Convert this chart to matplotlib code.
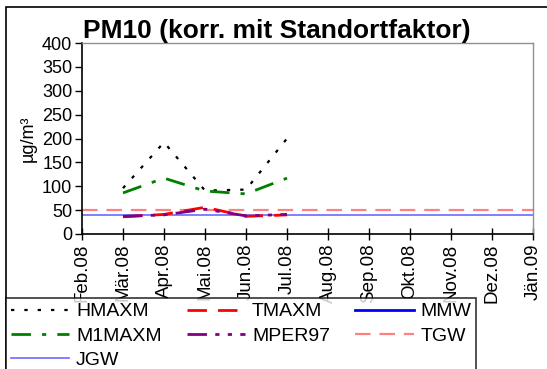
import numpy as np
import matplotlib
matplotlib.use("Agg")
from matplotlib import pyplot as plt
from matplotlib.patches import Rectangle

plt.rcParams['font.family'] = ['Liberation Sans', 'DejaVu Sans']

months = ['Feb.08', 'Mär.08', 'Apr.08', 'Mai.08', 'Jun.08', 'Jul.08',
          'Aug.08', 'Sep.08', 'Okt.08', 'Nov.08', 'Dez.08', 'Jän.09']
# measured months: Mär.08 .. Jul.08
meas_idx = [1, 2, 3, 4, 5]
hmaxm = [96, 192, 91, 93, 200]
m1maxm = [86, 117, 90, 84, 117]
tmaxm = [36, 41, 56, 37, 40]
mper97 = [37, 40, 52, 38, 41]
mmw = []
tgw = 50
jgw = 40

fig = plt.figure(figsize=(5.47, 3.69), dpi=100)
ax = fig.add_axes([82 / 547, 1 - 234 / 369, 451 / 547, 191 / 369])

x = np.arange(len(months))

l_jgw, = ax.plot([x[0], x[-1]], [jgw, jgw], color='#6a6aff', lw=1.2, label='JGW')
l_tgw, = ax.plot([x[0], x[-1]], [tgw, tgw], color='#ff8080', lw=1.6,
                 dashes=(7, 4), label='TGW')
l_h, = ax.plot(meas_idx, hmaxm, color='black', lw=1.6, dashes=(1.5, 4.5), label='HMAXM')
l_m1, = ax.plot(meas_idx, m1maxm, color='#008000', lw=2, dashes=(7, 4, 1.5, 4),
                label='M1MAXM')
l_t, = ax.plot(meas_idx, tmaxm, color='#ff0000', lw=2, dashes=(7, 4), label='TMAXM')
l_p, = ax.plot(meas_idx, mper97, color='#800080', lw=2,
               dashes=(7, 3, 1.5, 3, 1.5, 3), label='MPER97')
l_mmw, = ax.plot(meas_idx[:len(mmw)], mmw, color='#0000ff', lw=2, label='MMW')

ax.set_xlim(0, 11)
ax.set_ylim(0, 400)
ax.set_yticks(np.arange(0, 401, 50))
ax.set_xticks(x)
ax.set_xticklabels(months, rotation=90, fontsize=13.5)
ax.tick_params(axis='y', labelsize=13, direction='out', length=5, width=1, pad=2)
ax.tick_params(axis='x', direction='inout', length=8, width=1, pad=3)
for s in ['left', 'bottom']:
    ax.spines[s].set_color('black')
    ax.spines[s].set_linewidth(1.2)
for s in ['top', 'right']:
    ax.spines[s].set_color('#909090')
    ax.spines[s].set_linewidth(1)
ax.set_ylabel('µg/m³', fontsize=13, labelpad=4)

fig.text(277 / 547, 1 - 31 / 369, 'PM10 (korr. mit Standortfaktor)',
         fontsize=19, fontweight='bold', ha='center', va='center')

# outer chart border
fig.patches.append(Rectangle((6 / 547, -0.1), 1.0, 1.1 - 7 / 369,
                             transform=fig.transFigure, fill=False,
                             edgecolor='black', lw=1.2))

handles = [l_h, l_m1, l_jgw, l_t, l_p, l_mmw, l_tgw]
leg = fig.legend(handles, [h.get_label() for h in handles], ncol=3,
                 loc='upper left', bbox_to_anchor=(6 / 547, 1 - 298 / 369),
                 fontsize=14, frameon=True, fancybox=False, handlelength=3.0,
                 handletextpad=0.35, columnspacing=1.3, labelspacing=0.34,
                 borderpad=0.25, borderaxespad=0)
leg.get_frame().set_edgecolor('black')
leg.get_frame().set_linewidth(1.2)

fig.savefig('out.png', dpi=100)
